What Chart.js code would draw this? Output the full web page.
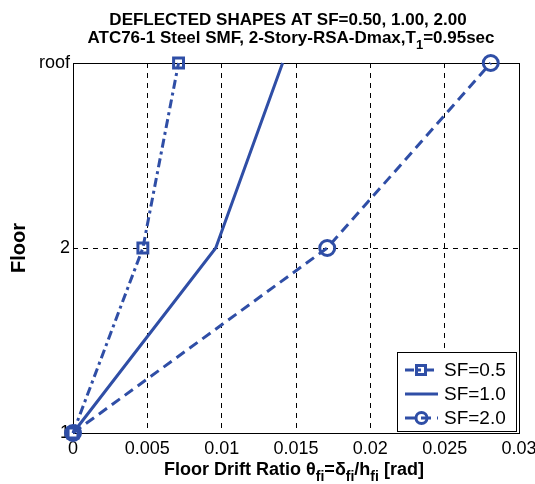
<!DOCTYPE html>
<html><head><meta charset="utf-8">
<script src="https://cdn.jsdelivr.net/npm/chart.js@4.4.0/dist/chart.umd.min.js"></script>
<style>html,body{margin:0;padding:0;background:#fff}</style>
</head><body>
<canvas id="c" width="535" height="484"></canvas>
<script>
// floor levels (1 = base, 3 = roof)
const floors = [1, 2, 3];
const floorLabels = {1: '1', 2: '2', 3: 'roof'};
const seriesNames = ['SF=0.5', 'SF=1.0', 'SF=2.0'];
// floor drift ratio at each floor
const sf05 = [0, 0.0047, 0.0071];
const sf10 = [0, 0.0096, 0.0141];
const sf20 = [0, 0.0171, 0.0281];

const blue = '#2f4ea6';
const font = '"Liberation Sans", Arial, sans-serif';

function pts(xs) { return xs.map((x, i) => ({x: x, y: floors[i]})); }

// draw text with subscript parts, centred at x
function drawRich(ctx, parts, x, y, size) {
    const big = 'bold ' + size + 'px ' + font;
    const small = 'bold ' + Math.round(size * 0.75) + 'px ' + font;
    let w = 0;
    parts.forEach(p => { ctx.font = p.sub ? small : big; w += ctx.measureText(p.t).width; });
    let cx = x - w / 2;
    ctx.textAlign = 'left';
    ctx.textBaseline = 'alphabetic';
    ctx.fillStyle = '#000';
    parts.forEach(p => {
        ctx.font = p.sub ? small : big;
        ctx.fillText(p.t, cx, p.sub ? y + size * 0.35 : y);
        cx += ctx.measureText(p.t).width;
    });
}

const textPlugin = {
    id: 'texts',
    beforeDatasetsDraw(chart) {
        const ctx = chart.ctx, a = chart.chartArea;
        ctx.save();
        ctx.strokeStyle = '#000';
        ctx.lineWidth = 1;
        ctx.strokeRect(a.left + 0.5, a.top + 0.5, a.right - a.left, a.bottom - a.top);
        ctx.restore();
    },
    afterDraw(chart) {
        const ctx = chart.ctx, a = chart.chartArea;
        const mid = (a.left + a.right) / 2;
        ctx.save();
        drawRich(ctx, [{t: 'DEFLECTED SHAPES AT SF=0.50, 1.00, 2.00'}], mid - 8, 25, 17);
        drawRich(ctx, [{t: 'ATC76-1 Steel SMF, 2-Story-RSA-Dmax,T'}, {t: '1', sub: true}, {t: '=0.95sec'}], mid - 5, 43, 17);
        drawRich(ctx, [{t: 'Floor Drift Ratio \u03b8'}, {t: 'fi', sub: true}, {t: '=\u03b4'}, {t: 'fi', sub: true},
            {t: '/h'}, {t: 'fi', sub: true}, {t: ' [rad]'}], 294, 475, 18);

        // legend
        const bx = 397.5, by = 352.5, bw = 119, bh = 79;
        ctx.fillStyle = '#fff';
        ctx.fillRect(bx, by, bw, bh);
        ctx.strokeStyle = '#000';
        ctx.lineWidth = 1;
        ctx.strokeRect(bx, by, bw, bh);
        chart.data.datasets.forEach((ds, i) => {
            const y = 370 + i * 24;
            ctx.strokeStyle = blue;
            ctx.lineWidth = 3;
            ctx.setLineDash(ds.borderDash || []);
            ctx.beginPath(); ctx.moveTo(405, y); ctx.lineTo(438, y); ctx.stroke();
            ctx.setLineDash([]);
            if (ds.pointStyle === 'rect') {
                ctx.strokeRect(416.5, y - 4.5, 9, 9);
            } else if (ds.pointStyle === 'circle') {
                ctx.beginPath(); ctx.arc(421.5, y, 5.5, 0, Math.PI * 2); ctx.stroke();
            }
            ctx.fillStyle = '#000';
            ctx.font = '19px ' + font;
            ctx.textBaseline = 'middle';
            ctx.textAlign = 'left';
            ctx.fillText(ds.label, 444, y + 1);
        });
        ctx.restore();
    }
};

new Chart(document.getElementById('c'), {
    type: 'scatter',
    data: {
        datasets: [{
            label: seriesNames[0],
            data: pts(sf05),
            showLine: true,
            borderColor: blue,
            borderWidth: 3,
            borderDash: [9, 4, 3, 4],
            pointStyle: 'rect',
            pointRadius: 7,
            pointBorderWidth: 3,
            pointBorderColor: blue,
            pointBackgroundColor: 'transparent',
            clip: false
        }, {
            label: seriesNames[1],
            data: pts(sf10),
            showLine: true,
            borderColor: blue,
            borderWidth: 3,
            pointRadius: 0,
            clip: false
        }, {
            label: seriesNames[2],
            data: pts(sf20),
            showLine: true,
            borderColor: blue,
            borderWidth: 3,
            borderDash: [10, 6],
            pointStyle: 'circle',
            pointRadius: 7.5,
            pointBorderWidth: 3,
            pointBorderColor: blue,
            pointBackgroundColor: 'transparent',
            clip: false
        }]
    },
    options: {
        responsive: false,
        animation: false,
        layout: {padding: {top: 63, right: 16, bottom: 0, left: 0}},
        plugins: {
            legend: {display: false},
            tooltip: {enabled: false}
        },
        scales: {
            x: {
                type: 'linear',
                min: 0,
                max: 0.03,
                afterFit: s => { s.height = 51; s.paddingRight = 0; s.paddingLeft = 0; },
                ticks: {
                    stepSize: 0.005,
                    padding: 5,
                    color: '#000',
                    font: {size: 18, family: font},
                    maxRotation: 0,
                    callback: v => Number(v.toFixed(3)).toString()
                },
                grid: {color: '#000', lineWidth: 1, drawTicks: false},
                border: {display: false, dash: [5, 5]}
            },
            y: {
                type: 'linear',
                min: 1,
                max: 3,
                afterFit: s => { s.width = 73; s.paddingTop = 0; s.paddingBottom = 0; },
                title: {display: true, text: 'Floor', color: '#000', font: {size: 20, weight: 'bold', family: font}, padding: {top: 7, bottom: 0}},
                ticks: {
                    stepSize: 1,
                    padding: 3,
                    color: '#000',
                    font: {size: 18, family: font},
                    callback: v => floorLabels[v]
                },
                grid: {
                    color: c => (c.tick && c.tick.value === 2) ? '#000' : 'transparent',
                    lineWidth: 1,
                    drawTicks: false
                },
                border: {display: false, dash: [5, 5]}
            }
        }
    },
    plugins: [textPlugin]
});
</script>
</body></html>
